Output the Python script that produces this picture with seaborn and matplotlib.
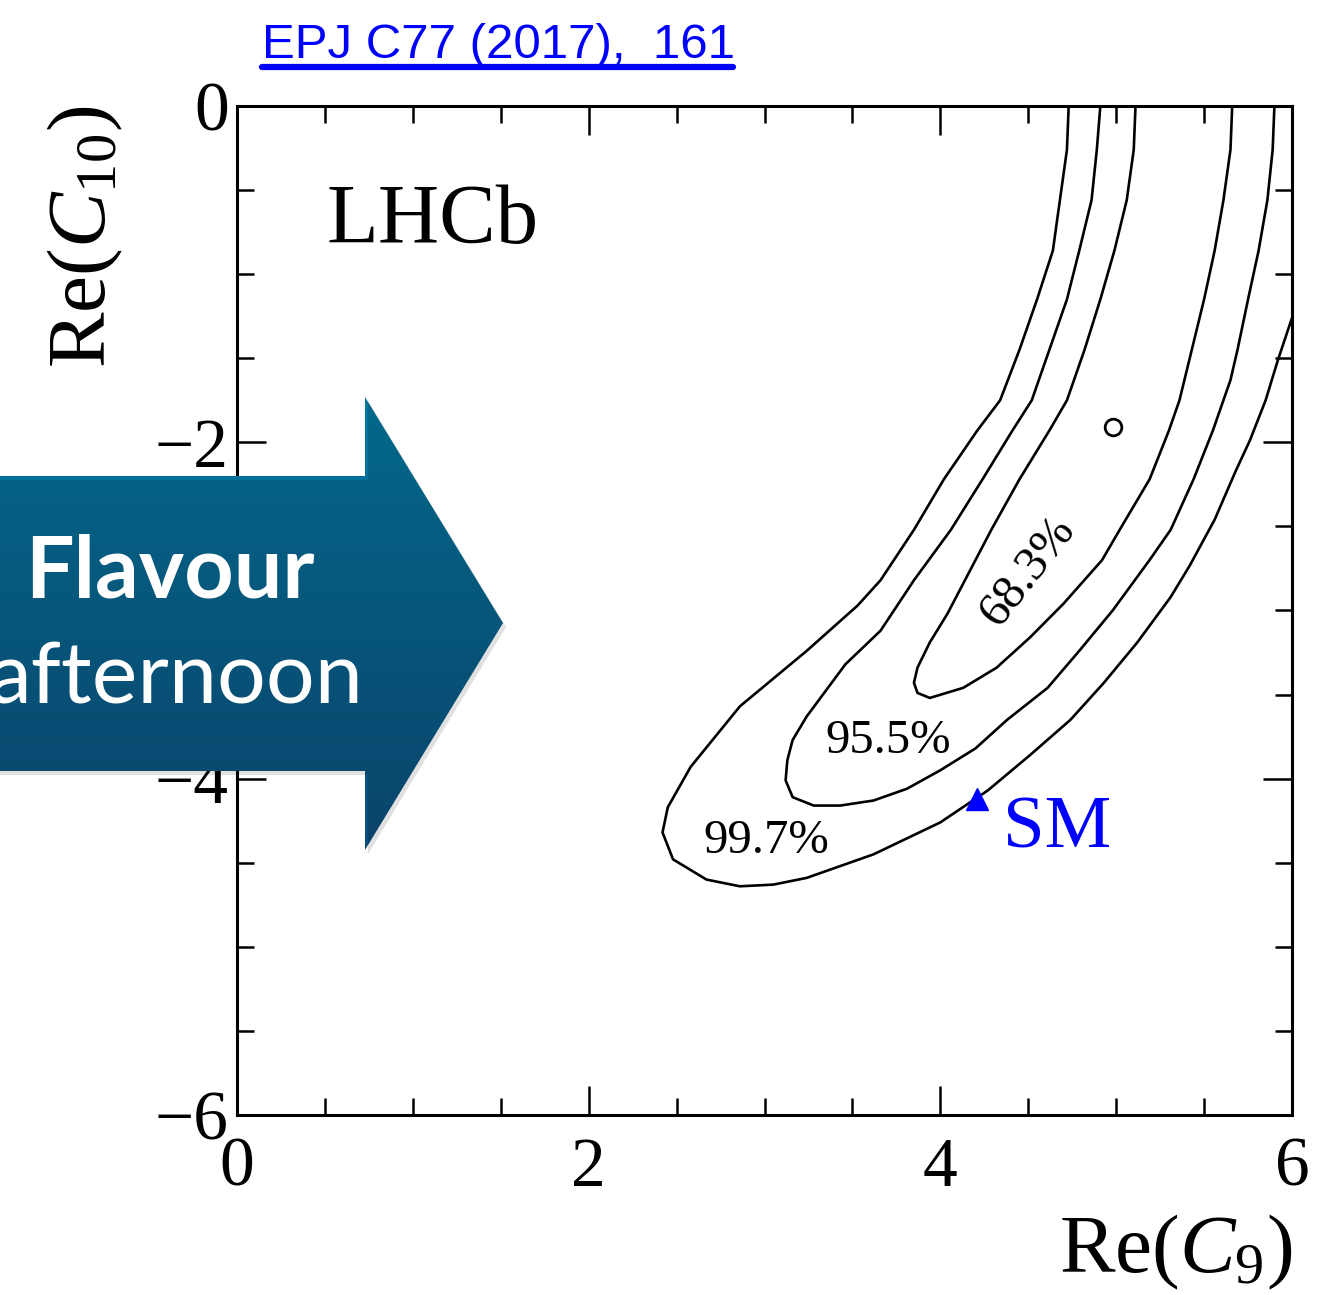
import numpy as np
import pandas as pd
import matplotlib
matplotlib.use("Agg")
import matplotlib.pyplot as plt
from matplotlib.lines import Line2D
from matplotlib.patches import Polygon
from matplotlib.colors import LinearSegmentedColormap
from matplotlib.ticker import MultipleLocator
import seaborn as sns

C9_683 = [5.11, 5.10, 5.06, 4.99, 4.91, 4.82, 4.72, 4.62, 4.45, 4.29, 4.14, 4.04, 3.94,
          3.87, 3.85, 3.87, 3.94, 4.13, 4.32, 4.51, 4.70, 4.92, 5.02, 5.19, 5.30, 5.36,
          5.43, 5.50, 5.56, 5.61, 5.65, 5.66]
C10_683 = [0.0, -0.26, -0.56, -0.86, -1.15, -1.45, -1.75, -1.93, -2.22, -2.52, -2.82, -3.02, -3.19,
           -3.34, -3.43, -3.49, -3.52, -3.46, -3.34, -3.16, -2.96, -2.70, -2.52, -2.22, -1.93, -1.75,
           -1.45, -1.15, -0.86, -0.56, -0.26, 0.0]

C9_955 = [4.91, 4.89, 4.86, 4.79, 4.72, 4.62, 4.52, 4.41, 4.24, 4.06, 3.85, 3.66, 3.46,
          3.24, 3.16, 3.13, 3.12, 3.16, 3.28, 3.43, 3.62, 3.81, 4.00, 4.20, 4.38, 4.61,
          4.79, 4.98, 5.19, 5.31, 5.44, 5.55, 5.65, 5.69, 5.75, 5.81, 5.86, 5.89, 5.90]
C10_955 = [0.0, -0.26, -0.56, -0.86, -1.15, -1.45, -1.75, -1.93, -2.22, -2.52, -2.82, -3.12, -3.32,
           -3.63, -3.77, -3.89, -4.01, -4.11, -4.16, -4.16, -4.13, -4.06, -3.95, -3.82, -3.65, -3.46,
           -3.24, -3.00, -2.70, -2.52, -2.22, -1.93, -1.63, -1.45, -1.15, -0.86, -0.56, -0.26, 0.0]

C9_997 = [4.73, 4.72, 4.68, 4.64, 4.55, 4.45, 4.34, 4.21, 4.02, 3.85, 3.66, 3.53, 3.24,
          2.86, 2.58, 2.45, 2.42, 2.48, 2.67, 2.86, 3.05, 3.24, 3.62, 4.00, 4.27, 4.51,
          4.74, 4.93, 5.12, 5.31, 5.42, 5.56, 5.68, 5.76, 5.85, 5.92, 6.0]
C10_997 = [0.0, -0.26, -0.56, -0.86, -1.15, -1.45, -1.75, -1.93, -2.22, -2.52, -2.82, -2.97, -3.24,
           -3.57, -3.93, -4.17, -4.32, -4.48, -4.60, -4.64, -4.63, -4.59, -4.45, -4.26, -4.07, -3.86,
           -3.65, -3.43, -3.19, -2.92, -2.73, -2.46, -2.17, -1.99, -1.75, -1.51, -1.26]

LEVELS = ["68.3%", "95.5%", "99.7%"]

BEST_FIT = (4.98, -1.91)
SM_POINT = (4.21, -4.12)

df = pd.concat([
    pd.DataFrame({"c9": C9_683, "c10": C10_683, "level": LEVELS[0]}),
    pd.DataFrame({"c9": C9_955, "c10": C10_955, "level": LEVELS[1]}),
    pd.DataFrame({"c9": C9_997, "c10": C10_997, "level": LEVELS[2]}),
], ignore_index=True)

sns.set_theme(style="ticks")
plt.rcParams["font.family"] = ["Liberation Serif", "DejaVu Serif"]
plt.rcParams["mathtext.fontset"] = "custom"
plt.rcParams["mathtext.rm"] = "Liberation Serif"
plt.rcParams["mathtext.it"] = "Liberation Serif:italic"
for key in ["text.color", "axes.labelcolor", "xtick.color", "ytick.color", "axes.edgecolor"]:
    plt.rcParams[key] = "black"

W, H = 1327, 1295
fig = plt.figure(figsize=(W / 100, H / 100), dpi=100)
ax = fig.add_axes([237 / W, 1 - 1115 / H, 1055 / W, 1009 / H])

sns.lineplot(data=df, x="c9", y="c10", units="level", estimator=None, sort=False,
             color="black", lw=1.9, ax=ax, legend=False)
ax.plot(*BEST_FIT, marker="o", ms=12, mfc="none", mec="black", mew=2.0)
ax.plot(*SM_POINT, marker="^", ms=16, color="#0000ff")

ax.set_xlim(0, 6)
ax.set_ylim(-6, 0)
for axis in (ax.xaxis, ax.yaxis):
    axis.set_major_locator(MultipleLocator(2))
    axis.set_minor_locator(MultipleLocator(0.5))
ax.tick_params(which="both", direction="in", top=True, right=True, width=1.8, color="black")
ax.tick_params(which="major", length=21, labelsize=50)
ax.tick_params(which="minor", length=12)
ax.tick_params(axis="x", pad=16)
ax.tick_params(axis="y", pad=6)
for s in ax.spines.values():
    s.set_linewidth(2.2)
    s.set_color("black")

ax.set_xlabel(r"$\mathrm{Re}(C_9)$", fontsize=60, ha="right", va="center")
ax.xaxis.set_label_coords(1.0, -0.136)
ax.set_ylabel(r"$\mathrm{Re}(C_{10})$", fontsize=60, ha="right", va="center")
ax.yaxis.set_label_coords(-0.144, 1.0)

ax.text(0.51, -0.815, "LHCb", fontsize=61, va="baseline")
ax.text(4.357, -4.41, "SM", fontsize=54, color="#0000ff", va="baseline")
ax.text(2.65, -4.44, "99.7%", fontsize=35, va="baseline")
ax.text(3.344, -3.845, "95.5%", fontsize=35, va="baseline")
ax.text(4.50, -2.765, "68.3%", fontsize=35, rotation=52, rotation_mode="anchor",
        ha="center", va="center")

# reference link on top
fig.text(262 / W, 1 - 58 / H, "EPJ C77 (2017),  161", family="Liberation Sans",
         fontsize=35.5, color="#0000ff", va="baseline")
fig.add_artist(Line2D([262 / W, 733 / W], [1 - 67 / H] * 2, lw=4.5, color="#0000ff"))

# slide banner arrow drawn over the plot
ov = fig.add_axes([0, 0, 1, 1], zorder=10)
ov.axis("off")
ov.patch.set_alpha(0)
arrow_xy = [(-5, 476), (365, 476), (365, 397), (503, 623), (365, 850), (365, 771), (-5, 771)]
shadow = Polygon([(x + 3, y + 4) for x, y in arrow_xy], closed=True, fc="black", ec="none", alpha=0.12)
ov.add_patch(shadow)
arrow = Polygon(arrow_xy, closed=True, fc="none", ec="none")
ov.add_patch(arrow)
cmap = LinearSegmentedColormap.from_list("banner", ["#03789f", "#0d4c79"])
grad = np.linspace(0, 1, 256).reshape(-1, 1)
im = ov.imshow(grad, extent=(-20, 520, 860, 390), cmap=cmap, aspect="auto")
im.set_clip_path(arrow)
ov.set_xlim(0, W)
ov.set_ylim(H, 0)
ov.text(170, 597, "Flavour", color="white", fontsize=62, fontweight="bold",
        family=["Lato", "DejaVu Sans"], ha="center", va="baseline")
ov.text(176, 703, "afternoon", color="white", fontsize=62, fontweight="normal",
        family=["Lato", "DejaVu Sans"], ha="center", va="baseline")

fig.savefig("out.png", dpi=100)
